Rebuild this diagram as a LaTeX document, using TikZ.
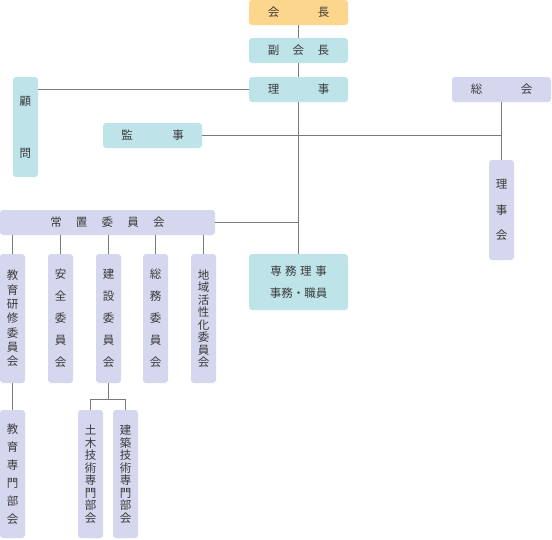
\documentclass[tikz,border=0pt]{standalone}
\usepackage{fontspec}
\setmainfont{Noto Sans CJK JP}
\definecolor{orgbox}{HTML}{FBD68C}
\definecolor{tealbox}{HTML}{BEE3E9}
\definecolor{lavbox}{HTML}{D5D7EE}
\definecolor{txt}{HTML}{3A3A3A}
\definecolor{ln}{HTML}{7A7A7A}
\tikzset{
  box/.style={rounded corners=3pt, inner sep=0pt, align=center, text=txt,
    font=\fontsize{11.5}{14}\selectfont},
  orgb/.style={box, fill=orgbox},
  tealb/.style={box, fill=tealbox},
  lavb/.style={box, fill=lavbox},
  hbox/.style={minimum width=99pt, minimum height=25pt},
  vbox/.style={minimum width=25pt, minimum height=#1},
  conn/.style={draw=ln, line width=0.9pt},
}
\newcommand\vsp[1]{\fontsize{11.5}{#1}\selectfont}
\begin{document}
\begin{tikzpicture}[x=1pt,y=-1pt]
\useasboundingbox (0,0) rectangle (552,539);
% top chain
\node[orgb, hbox] (kaicho) at (298.5,12.5) {会\hspace{38.5pt}長};
\node[tealb, hbox] (fuku) at (298.5,50.5) {副\hspace{13.5pt}会\hspace{13.5pt}長};
\node[tealb, hbox] (riji) at (298.5,89.5) {理\hspace{38.5pt}事};
\node[tealb, vbox=100pt, font=\vsp{52pt}] (komon) at (25.5,127) {顧\\問};
\node[tealb, hbox] (kanji) at (152.5,135.5) {監\hspace{39.5pt}事};
\node[lavb, hbox] (sokai) at (501.5,89.5) {総\hspace{38.5pt}会};
\node[lavb, vbox=100pt, font=\vsp{25.5pt}] (rijikai) at (501.5,210) {理\\事\\会};
\node[lavb, minimum width=215pt, minimum height=25pt] (joichi) at (107.5,222.5)
  {常\hspace{14.25pt}置\hspace{14.25pt}委\hspace{14.25pt}員\hspace{14.25pt}会};
\node[tealb, minimum width=99pt, minimum height=56pt, font=\vsp{22.5pt}] (senmu) at (298.5,282)
  {専\hspace{3.5pt}務\hspace{3.5pt}理\hspace{3.5pt}事\\事務・職員};
% committees
\node[lavb, vbox=129pt, font=\vsp{14.3pt}] (c1) at (12.5,318.5) {教\\育\\研\\修\\委\\員\\会};
\node[lavb, vbox=129pt, font=\vsp{22pt}] (c2) at (60.5,318.5) {安\\全\\委\\員\\会};
\node[lavb, vbox=129pt, font=\vsp{22pt}] (c3) at (108.5,318.5) {建\\設\\委\\員\\会};
\node[lavb, vbox=129pt, font=\vsp{22pt}] (c4) at (155.5,318.5) {総\\務\\委\\員\\会};
\node[lavb, vbox=129pt, font=\vsp{12.5pt}] (c5) at (203.5,318.5) {地\\域\\活\\性\\化\\委\\員\\会};
% sub
\node[lavb, vbox=128pt, font=\vsp{18pt}] (kyoiku) at (12.5,474) {教\\育\\専\\門\\部\\会};
\node[lavb, vbox=128pt, font=\vsp{12.5pt}] (doboku) at (90.5,474) {土\\木\\技\\術\\専\\門\\部\\会};
\node[lavb, vbox=128pt, font=\vsp{12.5pt}] (kenchiku) at (125.5,474) {建\\築\\技\\術\\専\\門\\部\\会};
\coordinate (split) at (108.5,399);
% connectors
\draw[conn] (kaicho) -- (fuku);
\draw[conn] (fuku) -- (riji);
\draw[conn] (riji) -- (senmu);
\draw[conn] (riji.west) -- (riji.west -| komon.east);
\draw[conn] (kanji.east) -- (kanji.east -| sokai.south);
\draw[conn] (sokai) -- (rijikai);
\draw[conn] (joichi.east) -- (joichi.east -| riji.south);
\foreach \c in {c1,c2,c3,c4,c5}{
  \draw[conn] (\c.north |- joichi.south) -- (\c.north);
}
\draw[conn] (c1) -- (kyoiku);
\draw[conn] (c3.south) -- (split);
\draw[conn] (doboku.north) -- (doboku.north |- split) -- (kenchiku.north |- split) -- (kenchiku.north);
\end{tikzpicture}
\end{document}
